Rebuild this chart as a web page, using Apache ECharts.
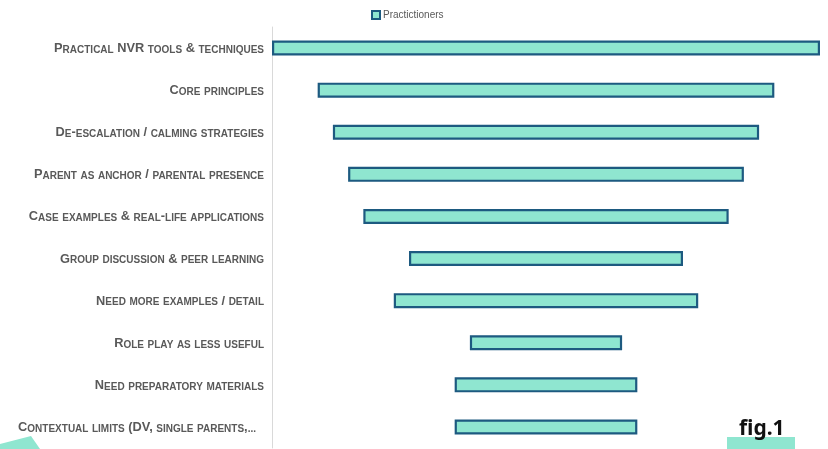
<!DOCTYPE html>
<html><head><meta charset="utf-8">
<script src="https://cdn.jsdelivr.net/npm/echarts@6/dist/echarts.min.js"></script>
<style>html,body{margin:0;padding:0;background:#fff}#c{width:828px;height:449px}</style>
</head><body><div id="c"></div>
<script>
const categories = [
  "Practical NVR tools & techniques",
  "Core principles",
  "De-escalation / calming strategies",
  "Parent as anchor / parental presence",
  "Case examples & real-life applications",
  "Group discussion & peer learning",
  "Need more examples / detail",
  "Role play as less useful",
  "Need preparatory materials",
  "Contextual limits (DV, single parents,..."
];
const practitioners = [18, 15, 14, 13, 12, 9, 10, 5, 6, 6];
const seriesName = "Practictioners";

const maxVal = Math.max(...practitioners);
const offsets = practitioners.map(v => (maxVal - v) / 2);

function smallCaps(s) {
  let out = '', cur = null, buf = '';
  let tail = '';
  if (s.endsWith('...')) { tail = '{e|...}'; s = s.slice(0, -3); }
  for (const ch of s) {
    const t = (ch !== ch.toUpperCase()) ? 's' : 'b';
    if (t !== cur) { if (buf) out += '{' + cur + '|' + buf + '}'; buf = ''; cur = t; }
    buf += ch.toUpperCase();
  }
  if (buf) out += '{' + cur + '|' + buf + '}';
  return out + tail;
}

const chart = echarts.init(document.getElementById('c'), null, {renderer: 'canvas'});
const ff = '"Liberation Sans", Arial, sans-serif';
chart.setOption({
  animation: false,
  legend: {
    data: [{name: seriesName, icon: 'rect'}], left: 366, top: 5, itemWidth: 8, itemHeight: 8, itemGap: 4,
    textStyle: {color: '#595959', fontSize: 10, fontFamily: ff, padding: [0, 0, 0, -2]}
  },
  grid: {left: 272, right: 8, top: 27, bottom: 1, containLabel: false},
  xAxis: {type: 'value', min: 0, max: maxVal, show: false},
  yAxis: {
    type: 'category', data: categories, inverse: true,
    axisLine: {show: true, lineStyle: {color: '#d9d9d9', width: 1}},
    axisTick: {show: false},
    axisLabel: {
      margin: 8, color: '#595959',
      formatter: v => smallCaps(v),
      rich: {
        b: {fontSize: 12.8, lineHeight: 14, verticalAlign: 'bottom', fontWeight: 'bold', color: '#595959', fontFamily: ff},
        s: {fontSize: 10, lineHeight: 12, verticalAlign: 'bottom', fontWeight: 'bold', color: '#595959', fontFamily: ff},
        e: {fontSize: 10, lineHeight: 12, verticalAlign: 'bottom', fontWeight: 'bold', color: '#595959', fontFamily: ff, padding: [0, 8, 0, 0]}
      }
    }
  },
  series: [
    {type: 'bar', name: 'offset', stack: 'a', data: offsets, itemStyle: {color: 'transparent'}, silent: true, barWidth: 15},
    {type: 'bar', name: seriesName, stack: 'a', data: practitioners, barWidth: 15,
      itemStyle: {color: '#8fe6d0', borderColor: '#1d5a80', borderWidth: 2.2}}
  ],
  graphic: [
    {type: 'polygon', shape: {points: [[0, 444], [31, 436], [40, 449], [0, 449]]}, style: {fill: '#8fe6d0'}},
    {type: 'rect', shape: {x: 727, y: 437, width: 68, height: 12}, style: {fill: '#8fe6d0'}},
    {type: 'text', left: 739, top: 419, style: {text: 'fig.1', fontSize: 21, fontWeight: 'bold', fill: '#111', fontFamily: '"Noto Sans", sans-serif'}}
  ]
});
</script></body></html>
